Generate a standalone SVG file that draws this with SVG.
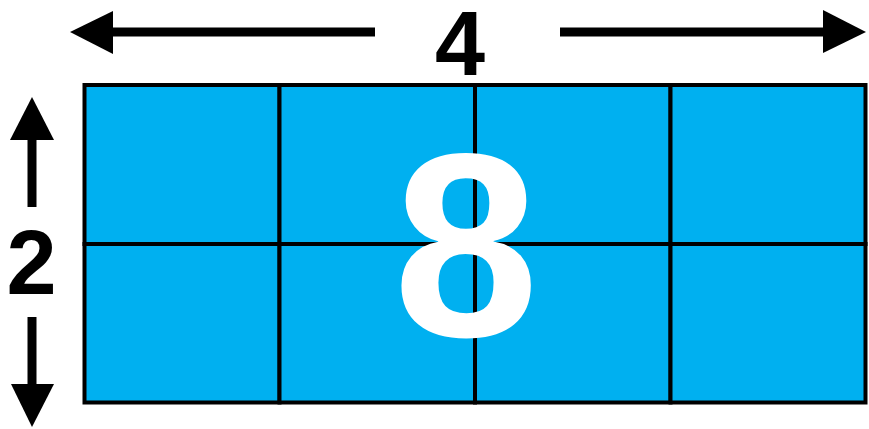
<svg xmlns="http://www.w3.org/2000/svg" width="869" height="429" viewBox="0 0 869 429">
<style>
.cell{fill:#00B0F0;stroke:#000;stroke-width:4}
.ln{stroke:#000;stroke-width:9;fill:none}
.hd{fill:#000}
.lbl{font-family:"Liberation Sans",Arial,sans-serif;font-weight:bold;text-anchor:middle}
</style>
<rect width="869" height="429" fill="#fff"/>
<g id="grid">
<rect class="cell" x="84.5" y="85" width="195" height="159"/>
<rect class="cell" x="279.5" y="85" width="195.5" height="159"/>
<rect class="cell" x="475" y="85" width="195.5" height="159"/>
<rect class="cell" x="670.5" y="85" width="195" height="159"/>
<rect class="cell" x="84.5" y="244" width="195" height="158.5"/>
<rect class="cell" x="279.5" y="244" width="195.5" height="158.5"/>
<rect class="cell" x="475" y="244" width="195.5" height="158.5"/>
<rect class="cell" x="670.5" y="244" width="195" height="158.5"/>
</g>
<g id="connectors">
<line class="ln" x1="110" y1="32" x2="375" y2="32"/>
<polygon class="hd" points="70,32 113,11 113,54"/>
<line class="ln" x1="560" y1="32" x2="826" y2="32"/>
<polygon class="hd" points="866,32 823,10 823,53"/>
<line class="ln" x1="32" y1="137" x2="32" y2="207"/>
<polygon class="hd" points="32,97 10,140 54,140"/>
<line class="ln" x1="32" y1="317" x2="32" y2="387"/>
<polygon class="hd" points="32,427 11,384 54,384"/>
</g>
<g id="labels">
<text class="lbl" x="460" y="75" font-size="90">4</text>
<text class="lbl" x="31.5" y="294" font-size="90">2</text>
<text class="lbl" x="466" y="336" font-size="262" fill="#fff">8</text>
</g>
</svg>
